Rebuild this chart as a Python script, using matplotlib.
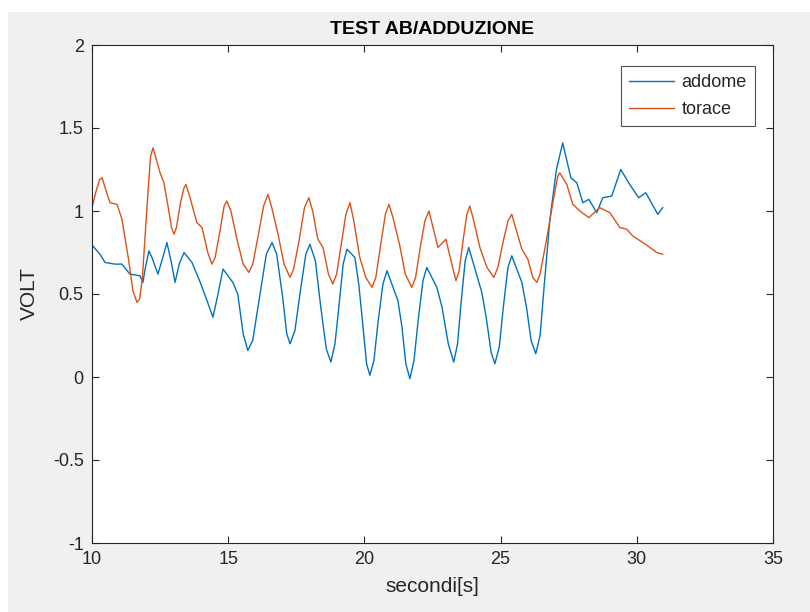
import matplotlib
matplotlib.use("Agg")
import matplotlib.pyplot as plt
from matplotlib.patches import Rectangle

# ---- data ----
t_addome = [10.00, 10.29, 10.48, 10.84, 11.10, 11.39, 11.76, 11.87, 11.95, 12.09,
            12.2, 12.42, 12.6, 12.75, 12.9, 13.05, 13.2, 13.38, 13.67, 13.95,
            14.2, 14.44, 14.6, 14.81, 15.17, 15.35, 15.55, 15.72, 15.9, 16.15,
            16.4, 16.61, 16.78, 17.0, 17.15, 17.27, 17.45, 17.65, 17.85, 18.00,
            18.2, 18.4, 18.6, 18.77, 18.92, 19.08, 19.22, 19.36, 19.65, 19.8,
            19.95, 20.08, 20.20, 20.35, 20.5, 20.68, 20.83, 21.23, 21.38, 21.52,
            21.67, 21.82, 21.98, 22.15, 22.29, 22.66, 22.85, 23.08, 23.28, 23.42,
            23.55, 23.7, 23.83, 24.31, 24.48, 24.65, 24.79, 24.95, 25.1, 25.27,
            25.41, 25.78, 25.95, 26.12, 26.29, 26.45, 26.6, 26.81, 27.05, 27.28,
            27.58, 27.80, 28.02, 28.24, 28.53, 28.75, 29.08, 29.41, 29.74, 30.07,
            30.33, 30.77, 30.95]
v_addome = [0.795, 0.74, 0.69, 0.68, 0.68, 0.62, 0.61, 0.57, 0.65, 0.76,
            0.72, 0.62, 0.72, 0.81, 0.70, 0.57, 0.68, 0.75, 0.69, 0.58,
            0.47, 0.36, 0.48, 0.65, 0.57, 0.50, 0.26, 0.16, 0.22, 0.48,
            0.74, 0.81, 0.74, 0.48, 0.26, 0.20, 0.28, 0.52, 0.74, 0.80,
            0.70, 0.42, 0.17, 0.09, 0.20, 0.45, 0.68, 0.77, 0.72, 0.55,
            0.30, 0.08, 0.01, 0.10, 0.33, 0.56, 0.64, 0.46, 0.30, 0.08,
            -0.01, 0.10, 0.35, 0.58, 0.66, 0.54, 0.42, 0.20, 0.09, 0.20,
            0.45, 0.70, 0.78, 0.51, 0.35, 0.15, 0.08, 0.18, 0.42, 0.66,
            0.73, 0.57, 0.42, 0.22, 0.14, 0.25, 0.55, 0.95, 1.25, 1.41,
            1.20, 1.17, 1.05, 1.07, 0.99, 1.08, 1.09, 1.25, 1.16, 1.08,
            1.11, 0.98, 1.02]

t_torace = [10.00, 10.15, 10.28, 10.37, 10.5, 10.66, 10.92, 11.10, 11.35, 11.5,
            11.65, 11.75, 11.85, 12.05, 12.15, 12.24, 12.50, 12.64, 12.8, 12.92,
            13.01, 13.1, 13.25, 13.38, 13.45, 13.6, 13.85, 14.04, 14.25, 14.40,
            14.52, 14.7, 14.85, 14.95, 15.1, 15.32, 15.55, 15.76, 15.9, 16.1,
            16.3, 16.46, 16.6, 16.83, 17.05, 17.27, 17.4, 17.6, 17.8, 17.96,
            18.1, 18.29, 18.48, 18.68, 18.84, 18.98, 19.15, 19.32, 19.47, 19.6,
            19.83, 20.05, 20.28, 20.42, 20.6, 20.77, 20.90, 21.05, 21.30, 21.5,
            21.74, 21.88, 22.05, 22.22, 22.37, 22.52, 22.70, 22.99, 23.18, 23.36,
            23.48, 23.62, 23.76, 23.87, 24.0, 24.24, 24.5, 24.75, 24.9, 25.1,
            25.27, 25.41, 25.55, 25.78, 26.00, 26.18, 26.33, 26.45, 26.70, 26.95,
            27.1, 27.17, 27.43, 27.65, 27.91, 28.24, 28.64, 29.01, 29.38, 29.63,
            29.85, 30.40, 30.73, 30.95]
v_torace = [1.02, 1.12, 1.19, 1.20, 1.13, 1.05, 1.04, 0.95, 0.70, 0.52,
            0.45, 0.47, 0.60, 1.10, 1.33, 1.38, 1.23, 1.17, 1.02, 0.90,
            0.86, 0.90, 1.05, 1.14, 1.16, 1.08, 0.93, 0.90, 0.75, 0.68,
            0.72, 0.88, 1.03, 1.06, 1.00, 0.83, 0.68, 0.63, 0.68, 0.85,
            1.03, 1.10, 1.02, 0.86, 0.68, 0.60, 0.65, 0.82, 1.02, 1.08,
            1.00, 0.83, 0.78, 0.62, 0.56, 0.62, 0.80, 0.98, 1.05, 0.95,
            0.72, 0.60, 0.54, 0.60, 0.80, 0.98, 1.04, 0.96, 0.79, 0.62,
            0.54, 0.60, 0.78, 0.94, 1.00, 0.90, 0.78, 0.83, 0.70, 0.58,
            0.64, 0.82, 0.98, 1.03, 0.95, 0.78, 0.66, 0.60, 0.66, 0.82,
            0.94, 0.98, 0.90, 0.77, 0.71, 0.60, 0.57, 0.62, 0.84, 1.08,
            1.21, 1.23, 1.16, 1.04, 1.00, 0.96, 1.02, 0.99, 0.90, 0.89,
            0.85, 0.79, 0.75, 0.74]

x_ticks = [10, 15, 20, 25, 30, 35]
y_ticks = [-1, -0.5, 0, 0.5, 1, 1.5, 2]
y_ticklabels = ["-1", "-0.5", "0", "0.5", "1", "1.5", "2"]

# ---- style ----
plt.rcParams['font.family'] = ['Liberation Sans', 'DejaVu Sans']
dark = '#262626'

fig = plt.figure(figsize=(8.1, 6.12), dpi=100, facecolor='white')
fig.patches.append(Rectangle((8 / 810, 0), 1, 1 - 12 / 612, transform=fig.transFigure,
                             facecolor='#F0F0F0', edgecolor='none', zorder=-10))

ax = fig.add_axes([92 / 810, 1 - 543 / 612, (773 - 92) / 810, (543 - 45) / 612])
ax.set_facecolor('white')

ax.plot(t_addome, v_addome, color='#0072BD', lw=1.0, label='addome')
ax.plot(t_torace, v_torace, color='#D95319', lw=1.0, label='torace')

ax.set_xlim(10, 35)
ax.set_ylim(-1, 2)
ax.set_xticks(x_ticks)
ax.set_yticks(y_ticks)
ax.set_yticklabels(y_ticklabels)
ax.tick_params(direction='in', length=5, width=0.8, colors=dark, labelsize=13,
               top=True, right=True, pad=6)
for s in ax.spines.values():
    s.set_color(dark)
    s.set_linewidth(0.8)

ax.set_title('TEST AB/ADDUZIONE', fontsize=14, fontweight='bold', color='black', pad=8)
ax.set_xlabel('secondi[s]', fontsize=15, color=dark, labelpad=6)
ax.set_ylabel('VOLT', fontsize=15, color=dark, labelpad=10)

leg = ax.legend(loc='upper right', bbox_to_anchor=(755 / 810, 1 - 66 / 612),
                bbox_transform=fig.transFigure, fontsize=13, frameon=True,
                fancybox=False, handlelength=2.5, handletextpad=0.4,
                borderpad=0.45, labelspacing=0.55, borderaxespad=0)
leg.get_frame().set_edgecolor(dark)
leg.get_frame().set_linewidth(0.8)
for txt in leg.get_texts():
    txt.set_color(dark)

fig.savefig('out.png', dpi=100, facecolor=fig.get_facecolor())
